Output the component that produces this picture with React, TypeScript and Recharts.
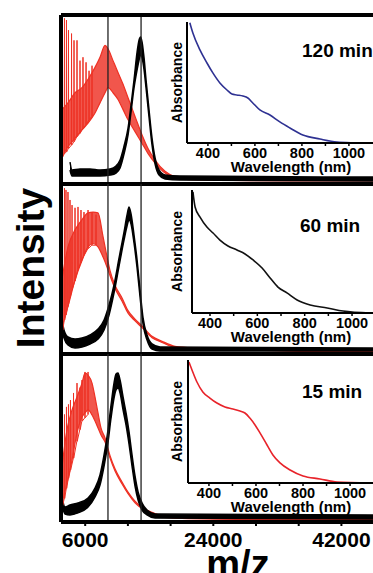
import React from "react";
import { ComposedChart, LineChart, Area, Line, XAxis, YAxis, ReferenceLine } from "recharts";

const FONT = '"Liberation Sans", Arial, Helvetica, sans-serif';
const RED = "#ee3124";
const BLUE = "#2e3192";

// mass spectra: m/z axis shared by all three panels
const MZ_DOMAIN: [number, number] = [2600, 47000];
const MZ_TICKS = [6000, 12000, 18000, 24000, 30000, 36000, 42000];
const MZ_LABELS = [6000, 24000, 42000];
const GUIDE_MZ = [9200, 13850];

// rows are [m/z, low, high] of the noisy trace
const red120 = [
  [2740, 16, 44], [3580, 22, 48], [4570, 27, 54], [5550, 32, 57], [6400, 36, 62],
  [7380, 42, 69], [8080, 48, 75], [8790, 54, 82], [9210, 57, 80], [9910, 54, 73],
  [10610, 50, 66], [11320, 44, 59], [12020, 38, 51], [13000, 31, 40], [13990, 24, 29],
  [14830, 18, 21], [15820, 12.4, 14.2], [17220, 6.5, 7.5], [18630, 3.6, 4.3],
  [20740, 2.5, 3.2], [29170, 2, 2.6], [47000, 1.8, 2.4],
];
const spikes120 = [
  [2810, 16, 98], [3090, 18, 98], [3370, 19, 97], [3650, 21, 91], [4080, 23, 89],
  [4430, 25, 85], [4850, 28, 85], [5270, 30, 73], [5690, 33, 75], [6120, 35, 72],
  [6540, 38, 67], [6960, 40, 70],
];
const black120 = [
  [3865, 8.3, 13], [4150, 4.7, 8.3], [5270, 4.7, 8.9], [6680, 4.7, 8.9], [8080, 4.7, 8.3],
  [9490, 5.3, 8.9], [10330, 6.5, 10.7], [10900, 9.5, 14.2], [11460, 17.8, 22.5],
  [12020, 29, 33], [12440, 42.6, 46.7], [12860, 56.8, 61.5], [13290, 67.5, 78],
  [13570, 73.4, 85.2], [13780, 76.3, 87], [13990, 74.6, 84], [14270, 67.5, 74.6],
  [14550, 56.8, 61.5], [14970, 39.6, 43.8], [15390, 23.1, 27.2], [15820, 11.8, 15.4],
  [16380, 5.3, 8.3], [17220, 3, 5.3], [19330, 2.4, 4.7], [47000, 1.8, 4.1],
];

const red60 = [
  [2740, 16, 44], [3580, 28, 63], [4570, 43.5, 73], [5550, 55, 79], [6400, 63, 83],
  [7100, 65, 83.5], [7800, 63, 83], [8510, 57, 69], [9070, 51, 57], [9490, 46, 49],
  [10190, 38.5, 40.5], [11180, 31, 33], [12020, 24, 25.5], [13000, 19.5, 20.5],
  [13990, 15.5, 16.5], [15390, 9.6, 10.4], [16800, 6.8, 7.5], [18630, 3.8, 4.5],
  [20030, 3.2, 3.9], [22140, 2.8, 3.5], [29170, 2.3, 3], [36200, 1.5, 2.2], [47000, 1, 1.6],
];
const spikes60 = [
  [2810, 14, 97.6], [3090, 20, 97.6], [3300, 23, 96.5], [3580, 28, 95.3], [3865, 33, 90.6],
  [4150, 38, 87.6], [4570, 43, 86], [4990, 50, 86.5], [5410, 54, 84.7], [5830, 58, 83.5],
  [6400, 62, 84.7], [6960, 64, 83.5], [7520, 64, 82],
];
const black60 = [
  [2740, 14.1, 21.2], [3020, 9.4, 14.1], [3580, 5.3, 10], [4570, 3.5, 8.8], [5550, 4.1, 9.4],
  [6680, 5.9, 11.2], [7800, 8.8, 14.7], [8650, 14.1, 20], [9350, 22.9, 28.8],
  [10050, 35.9, 40.6], [10760, 51.8, 56.5], [11460, 67.1, 71.8], [11880, 75.3, 81.8],
  [12160, 78.8, 86.5], [12440, 76.5, 82.4], [12860, 65.3, 70], [13290, 50.6, 55.3],
  [13710, 33.5, 37.6], [14130, 17.6, 21.2], [14690, 8.2, 11.2], [15390, 2.9, 5.9],
  [16520, 1.8, 4.1], [47000, 1.8, 3.5],
];

const red15 = [
  [2740, 11.3, 32.7], [3440, 23.2, 54.8], [4150, 36.9, 66.7], [4850, 53, 74.4],
  [5550, 62.5, 82.7], [5975, 64.9, 88.7], [6400, 66.7, 87.5], [6960, 63.7, 82.7],
  [7380, 60.1, 74.4], [7800, 56, 64.9], [8220, 51.8, 56], [8790, 47.6, 50], [9490, 38, 39.5],
  [10190, 30.3, 31.7], [11180, 22.6, 23.8], [12020, 16.8, 17.8], [13000, 11.4, 12.4],
  [13990, 7.9, 8.7], [15390, 5, 5.8], [17220, 2.7, 3.3], [19610, 2.1, 2.7],
  [29170, 1.5, 2.1], [47000, 1.2, 1.8],
];
const spikes15 = [
  [2810, 10, 66.7], [3090, 14, 64], [3370, 20, 68.5], [3650, 26, 70], [3930, 31, 72.6],
  [4360, 38, 76.8], [4850, 48, 82.7], [5270, 55, 80], [5550, 60, 84.5], [5970, 62, 89.3],
  [6400, 64, 89.3],
];
const black15 = [
  [2740, 10.1, 14.9], [3160, 4.8, 8.9], [3865, 4.2, 10.1], [4990, 5.4, 11.3],
  [6400, 8.9, 14.3], [7380, 14.9, 20.2], [8080, 22, 28], [8650, 33.3, 39.9],
  [9210, 47.6, 54.8], [9630, 61.9, 69.6], [10050, 73.8, 82.7], [10330, 78.6, 88.1],
  [10610, 79.8, 88.7], [10900, 76.8, 84.5], [11320, 66.7, 74.4], [11740, 57.7, 64.9],
  [12160, 46.4, 53.6], [12580, 33.3, 39.9], [13000, 21.4, 27.4], [13430, 13.1, 17.9],
  [13990, 7.1, 11.3], [14690, 4.2, 7.1], [15820, 2.4, 4.8], [47000, 1.8, 4.2],
];

// absorbance insets: [wavelength nm, absorbance]
const WL_TICKS = [400, 500, 600, 700, 800, 900, 1000];
const WL_LABELS = [400, 600, 800, 1000];

const abs120 = [
  [323, 0.994], [336, 0.909], [366, 0.769], [396, 0.661], [421, 0.579], [451, 0.496],
  [481, 0.438], [502, 0.405], [523, 0.397], [549, 0.388], [570, 0.372], [591, 0.331],
  [621, 0.273], [664, 0.231], [706, 0.174], [749, 0.124], [804, 0.066], [877, 0.033],
  [949, 0.008], [1017, 0.002], [1089, 0],
];
const abs60 = [
  [328, 0.984], [337, 0.862], [358, 0.78], [387, 0.699], [413, 0.65], [442, 0.593],
  [476, 0.545], [514, 0.512], [548, 0.48], [582, 0.431], [620, 0.366], [654, 0.285],
  [687, 0.211], [725, 0.163], [768, 0.106], [823, 0.065], [895, 0.041], [962, 0.016],
  [1076, 0],
];
const abs15 = [
  [315, 0.984], [328, 0.919], [349, 0.821], [374, 0.74], [404, 0.691], [434, 0.65],
  [468, 0.618], [502, 0.602], [532, 0.585], [553, 0.569], [574, 0.528], [596, 0.472],
  [617, 0.407], [647, 0.309], [672, 0.228], [702, 0.163], [745, 0.106], [800, 0.057],
  [872, 0.033], [945, 0.008], [1085, 0],
];
const absTicks120 = [0.09, 0.215, 0.34, 0.463, 0.58, 0.702, 0.82, 0.942];
const absTicks60 = [0.122, 0.276, 0.431, 0.585, 0.74, 0.902];
const absTicks15 = [0.122, 0.276, 0.431, 0.577, 0.732, 0.886];

const PLOT_LEFT = 61;
const PLOT_W = 316;

function MassPanel({ top, height, red, spikes, black, first = false, last = false }: any) {
  const axisH = last ? 50 : 5;
  const redRows = red.map(([mz, lo, hi]: number[]) => ({ mz, band: [lo, hi] }));
  const blackRows = black.map(([mz, lo, hi]: number[]) => ({ mz, band: [lo, hi] }));
  const spikeRows = spikes.flatMap(([mz, lo, hi]: number[]) => [
    { mz: mz - 25, v: lo },
    { mz, v: hi },
    { mz: mz + 25, v: lo },
  ]);
  const w = PLOT_W + 3;
  const h = height + 3 + axisH;
  return (
    <div style={{ position: "absolute", left: PLOT_LEFT - 3, top: top - 3, width: w, height: h }}>
      <ComposedChart width={w} height={h} margin={{ top: 3, right: 0, bottom: 0, left: 3 }}>
        <XAxis
          dataKey="mz"
          type="number"
          domain={MZ_DOMAIN}
          ticks={MZ_TICKS}
          interval={0}
          allowDataOverflow
          height={axisH}
          axisLine={{ stroke: "#000", strokeWidth: 4 }}
          tickLine={{ stroke: "#000", strokeWidth: 2 }}
          tickSize={4}
          tickMargin={6}
          tick={last ? { fill: "#000", fontSize: 21, fontWeight: 700, fontFamily: FONT } : false}
          tickFormatter={(v: number) => (MZ_LABELS.includes(v) ? String(v) : "")}
        />
        <YAxis type="number" domain={[0, 100]} hide allowDataOverflow />
        <Area data={redRows} dataKey="band" type="monotone" stroke={RED} strokeWidth={1.2} fill={RED} fillOpacity={0.82} isAnimationActive={false} />
        <Line data={spikeRows} dataKey="v" type="linear" stroke={RED} strokeWidth={1} dot={false} isAnimationActive={false} />
        <Area data={blackRows} dataKey="band" type="monotone" stroke="#000" strokeWidth={1.5} fill="#000" fillOpacity={1} isAnimationActive={false} />
        {GUIDE_MZ.map((m) => (
          <ReferenceLine key={m} x={m} stroke="#222" strokeWidth={1.3} />
        ))}
        <ReferenceLine x={MZ_DOMAIN[0]} stroke="#000" strokeWidth={4} />
        {first && <ReferenceLine y={100} stroke="#000" strokeWidth={4} />}
      </ComposedChart>
    </div>
  );
}

function AbsInset({ left, top, width, height, domain, data, ticks, color }: any) {
  const rows = data.map(([nm, a]: number[]) => ({ nm, a }));
  const w = width + 6;
  const h = height + 2 + 22;
  return (
    <div style={{ position: "absolute", left: left - 6, top: top - 2, width: w, height: h }}>
      <LineChart width={w} height={h} data={rows} margin={{ top: 2, right: 0, bottom: 0, left: 0 }}>
        <XAxis
          dataKey="nm"
          type="number"
          domain={domain}
          ticks={WL_TICKS}
          interval={0}
          allowDataOverflow
          height={22}
          axisLine={{ stroke: "#000", strokeWidth: 2 }}
          tickLine={{ stroke: "#000", strokeWidth: 1.5 }}
          tickSize={3}
          tickMargin={2}
          tick={{ fill: "#000", fontSize: 14.5, fontWeight: 700, fontFamily: FONT }}
          tickFormatter={(v: number) => (WL_LABELS.includes(v) ? String(v) : "")}
        />
        <YAxis
          type="number"
          domain={[0, 1]}
          ticks={ticks}
          interval={0}
          allowDataOverflow
          width={6}
          tick={false}
          tickSize={4}
          axisLine={{ stroke: "#000", strokeWidth: 2 }}
          tickLine={{ stroke: "#000", strokeWidth: 1.5 }}
        />
        <Line dataKey="a" type="monotone" stroke={color} strokeWidth={1.6} dot={false} isAnimationActive={false} />
      </LineChart>
    </div>
  );
}

const INSETS = [
  { left: 187, top: 22, width: 188, height: 121, domain: [311, 1111], data: abs120, ticks: absTicks120, color: BLUE, title: "120 min", tx: 302, ty: 57 },
  { left: 192, top: 190, width: 183, height: 123, domain: [324, 1097], data: abs60, ticks: absTicks60, color: "#111", title: "60 min", tx: 300, ty: 232 },
  { left: 188, top: 360, width: 187, height: 123, domain: [311, 1106], data: abs15, ticks: absTicks15, color: "#e8232a", title: "15 min", tx: 302, ty: 398 },
];

export default function App() {
  return (
    <div style={{ position: "absolute", left: 0, top: 0, width: 373, height: 573, overflow: "hidden", background: "#fff", fontFamily: FONT }}>
      <MassPanel top={15} height={169} red={red120} spikes={spikes120} black={black120} first />
      <MassPanel top={184} height={170} red={red60} spikes={spikes60} black={black60} />
      <MassPanel top={354} height={168} red={red15} spikes={spikes15} black={black15} last />
      {INSETS.map((ins) => (
        <AbsInset key={ins.title} {...ins} />
      ))}
      <svg width={373} height={573} style={{ position: "absolute", left: 0, top: 0, pointerEvents: "none" }}>
        <g fontFamily={FONT} fill="#000">
          <text transform="translate(44,268) rotate(-90)" textAnchor="middle" fontSize={39} fontWeight={700}>
            Intensity
          </text>
          <text x={238} y={577} textAnchor="middle" fontSize={38} fontWeight={700}>
            m/z
          </text>
          {INSETS.map((ins) => (
            <g key={ins.title}>
              <text x={ins.tx} y={ins.ty} fontSize={19} fontWeight={700}>
                {ins.title}
              </text>
              <text
                transform={`translate(182,${ins.top + ins.height / 2}) rotate(-90)`}
                textAnchor="middle"
                fontSize={14}
                fontWeight={700}
              >
                Absorbance
              </text>
              <text x={291} y={ins.top + ins.height + 29} textAnchor="middle" fontSize={15} fontWeight={700}>
                Wavelength (nm)
              </text>
            </g>
          ))}
        </g>
      </svg>
    </div>
  );
}
